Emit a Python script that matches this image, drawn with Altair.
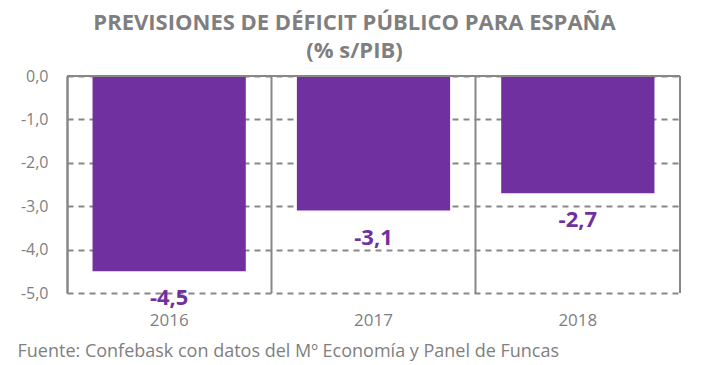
import altair as alt
import pandas as pd

years = ["2016", "2017", "2018"]
deficit = [-4.5, -3.1, -2.7]

df = pd.DataFrame({"year": years, "value": deficit})

W, H = 613, 217
PURPLE = "#7030A0"
GRAY = "#7f7f7f"
LINE = "#878787"
FONT = "Open Sans"
FMT = "replace(replace(format(datum.value, '.1f'), '.', ','), '\u2212', '-')"

x_enc = alt.X(
    "year:N",
    sort=years,
    scale=alt.Scale(paddingInner=0, paddingOuter=0),
    axis=alt.Axis(
        title="Fuente: Confebask con datos del Mº Economía y Panel de Funcas",
        titleX=-50,
        titleY=63,
        titleAlign="left",
        titleBaseline="alphabetic",
        titleFontWeight="normal",
        titleFontSize=18,
        titleColor=GRAY,
        titleFont=FONT,
        labelAngle=0,
        labelFontSize=17,
        labelColor=GRAY,
        labelFont=FONT,
        labelPadding=19,
        ticks=False,
        domain=False,
        grid=True,
        gridDash=[],
        gridColor=LINE,
        gridWidth=2,
        bandPosition=0,
    ),
)

y_enc = alt.Y(
    "value:Q",
    scale=alt.Scale(domain=[-5, 0], nice=False),
    axis=alt.Axis(
        title=None,
        values=[0, -1, -2, -3, -4, -5],
        labelExpr=FMT,
        labelFontSize=16,
        labelColor=GRAY,
        labelFont=FONT,
        labelPadding=19,
        ticks=False,
        domain=True,
        domainColor=LINE,
        domainWidth=2,
        grid=True,
        gridDash=[6, 5],
        gridColor=LINE,
        gridWidth=2,
    ),
)

bars = alt.Chart(df).mark_bar(color=PURPLE, width=alt.RelativeBandSize(0.75)).encode(
    x=x_enc, y=y_enc
)

labels = (
    alt.Chart(df)
    .transform_calculate(lbl=FMT)
    .mark_text(
        color=PURPLE, font=FONT, fontWeight="bold", fontSize=22, baseline="middle", dy=27
    )
    .encode(x=alt.X("year:N", sort=years), y=alt.Y("value:Q"), text="lbl:N")
)

top_rule = alt.Chart(df).mark_rule(color=LINE, strokeWidth=2).encode(
    x=alt.value(0), x2=alt.value(W), y=alt.value(0)
)
right_rule = alt.Chart(df).mark_rule(color=LINE, strokeWidth=2).encode(
    x=alt.value(W), y=alt.value(0), y2=alt.value(H)
)

chart = (
    alt.layer(bars, labels, top_rule, right_rule)
    .properties(
        width=W,
        height=H,
        autosize=alt.AutoSizeParams(type="none"),
        padding={"left": 59, "top": 68, "right": 20, "bottom": 72},
        title=alt.TitleParams(
            text=["PREVISIONES DE DÉFICIT PÚBLICO PARA ESPAÑA", "(% s/PIB)"],
            font=FONT,
            fontSize=22,
            fontWeight="bold",
            color=GRAY,
            lineHeight=28,
            anchor="middle",
            dx=-19,
            offset=5,
        ),
    )
    .configure_view(stroke=None)
)

chart.save("out.html", embed_options={"renderer": "svg", "actions": False})
